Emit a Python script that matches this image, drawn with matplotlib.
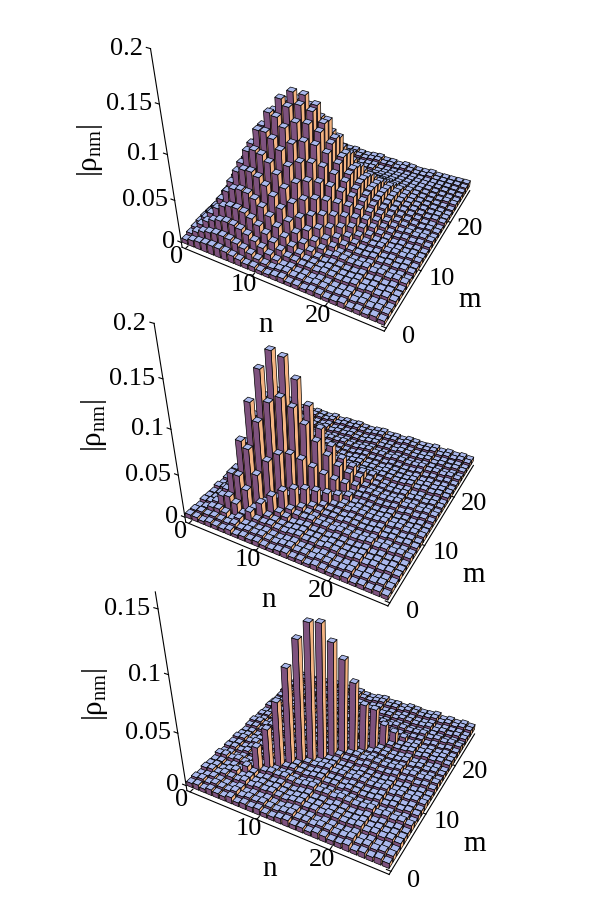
import numpy as np
import matplotlib.pyplot as plt
from mpl_toolkits.mplot3d.art3d import Poly3DCollection

plt.rcParams['font.family'] = ['Liberation Serif', 'DejaVu Serif']
plt.rcParams['mathtext.fontset'] = 'custom'
plt.rcParams['mathtext.rm'] = 'Liberation Serif'

# photon number index (n and m axes)
N = 28
levels = np.arange(N)
nm_ticks = [0, 10, 20]

# panel 1: diagonal |rho_nn| and coherence factor vs |n-m|
diag_1 = [0.005, 0.012, 0.022, 0.035, 0.052, 0.072, 0.092, 0.112, 0.128, 0.14,
          0.145, 0.14, 0.128, 0.11, 0.09, 0.07, 0.053, 0.04, 0.03, 0.022,
          0.016, 0.012, 0.01, 0.009, 0.008, 0.007, 0.007, 0.007]
coh_1 = [1.0, 0.94, 0.86, 0.77, 0.67, 0.57, 0.47, 0.37, 0.28, 0.2, 0.14, 0.09,
         0.05, 0.03, 0.015]

# panel 2
diag_2 = [0.005, 0.006, 0.009, 0.02, 0.044, 0.078, 0.117, 0.148, 0.164, 0.156,
          0.132, 0.103, 0.076, 0.054, 0.037, 0.025, 0.016, 0.01, 0.007, 0.005,
          0.005, 0.005, 0.005, 0.005, 0.005, 0.005, 0.005, 0.005]
coh_2 = [1.0, 0.75, 0.42, 0.14, 0.24, 0.1, 0.08, 0.04]

# panel 3
diag_3 = [0.004, 0.005, 0.006, 0.007, 0.008, 0.01, 0.026, 0.041, 0.064, 0.092,
          0.114, 0.126, 0.124, 0.107, 0.091, 0.069, 0.047, 0.041, 0.024, 0.015,
          0.008, 0.006, 0.005, 0.005, 0.005, 0.005, 0.005, 0.005]
coh_3 = [1.0, 0.03, 0.02]

# background level of the reconstructed matrices
floor_lvl = [0.004, 0.006, 0.003, 0.007, 0.005, 0.004, 0.008, 0.003, 0.006, 0.005,
             0.007, 0.004, 0.003, 0.006, 0.008, 0.004, 0.005, 0.003, 0.007, 0.006,
             0.004, 0.005, 0.008, 0.003, 0.006, 0.004, 0.007, 0.005]

zrange = [(-0.006, 0.2), (-0.006, 0.2), (-0.005, 0.162)]
zticks = [[0, 0.05, 0.1, 0.15, 0.2], [0, 0.05, 0.1, 0.15, 0.2], [0, 0.05, 0.1, 0.15]]

TOP = '#aab8ec'
FRONT = '#7e527e'
SIDE = '#f4b482'


def build_matrix(diag, coh):
    p = np.array(diag)
    c = np.zeros(N)
    c[:len(coh)] = coh
    nn, mm = np.meshgrid(levels, levels, indexing='ij')
    f = np.array(floor_lvl)
    rho = np.sqrt(np.outer(p, p)) * c[np.abs(nn - mm)]
    return np.maximum(rho, 0.5 * (f[nn] + f[mm]))


def draw_bars(ax, rho):
    w = 0.84
    layers = {}
    for n in levels:
        for m in levels:
            h = rho[n, m]
            x0, x1 = n - w / 2, n + w / 2
            y0, y1 = m - w / 2, m + w / 2
            top = [(x0, y0, h), (x1, y0, h), (x1, y1, h), (x0, y1, h)]
            front = [(x0, y0, 0), (x1, y0, 0), (x1, y0, h), (x0, y0, h)]
            side = [(x1, y0, 0), (x1, y1, 0), (x1, y1, h), (x1, y0, h)]
            polys, cols = layers.setdefault(n - m, ([], []))
            polys += [front, side, top]
            cols += [FRONT, SIDE, TOP]
    # back diagonals first, so nearer bars cover farther ones
    for key in sorted(layers):
        polys, cols = layers[key]
        pc = Poly3DCollection(polys, facecolors=cols, edgecolors='k',
                              linewidths=0.5)
        pc.set_zorder(100 + key)
        pc.set_clip_on(False)
        ax.add_collection3d(pc)


def style_axes(ax, zt, zr):
    ax.set_xlim(-0.5, N - 0.5)
    ax.set_ylim(-0.5, N - 0.5)
    ax.set_zlim(*zr)
    ax.set_box_aspect((1, 1, 1), zoom=1.08)
    ax.view_init(elev=34, azim=-61.6)
    ax.set_proj_type('persp', focal_length=0.37)
    ax.grid(False)
    for axis in (ax.xaxis, ax.yaxis, ax.zaxis):
        axis.set_pane_color((1, 1, 1, 0))
        axis.line.set_color('k')
        axis.line.set_linewidth(0.8)
        axis._axinfo['tick']['inward_factor'] = 0.0
        axis._axinfo['tick']['outward_factor'] = 0.25
    # z axis on the left edge; labels pushed out along one direction only
    ax.zaxis.set_ticks_position('lower')
    ax.zaxis.set_label_position('lower')
    ax.zaxis._get_tickdir = lambda *a, **k: 0
    ax.xaxis._axmask = lambda: [False, True, False]
    ax.yaxis._axmask = lambda: [True, False, False]
    ax.zaxis._axmask = lambda: [True, False, False]
    ax.set_xticks(nm_ticks)
    ax.set_yticks(nm_ticks)
    ax.set_zticks(zt)
    ax.set_xticklabels([str(t) for t in nm_ticks], ha='center', va='center')
    ax.set_yticklabels([str(t) for t in nm_ticks], ha='center', va='center')
    ax.set_zticklabels([f'{t:g}' for t in zt], ha='right', va='center_baseline')
    ax.tick_params(labelsize=19)
    ax.xaxis.set_tick_params(pad=0)
    ax.yaxis.set_tick_params(pad=5)
    ax.zaxis.set_tick_params(pad=-3)
    ax.text2D(0.325, -0.031, 'n', transform=ax.transAxes, fontsize=21,
              ha='center', va='center')
    ax.text2D(0.895, 0.039, 'm', transform=ax.transAxes, fontsize=21,
              ha='center', va='center')
    ax.text2D(-0.162, 0.455, '|ρ$_{\\mathrm{nm}}$|', transform=ax.transAxes,
              fontsize=21, rotation=90, ha='center', va='center')


fig = plt.figure(figsize=(6, 8.98), dpi=100)
rects = [[0.172, 0.65, 0.75, 0.4], [0.178, 0.344, 0.75, 0.4], [0.180, 0.045, 0.75, 0.4]]
data = [(diag_1, coh_1), (diag_2, coh_2), (diag_3, coh_3)]

for i in range(3):
    ax = fig.add_axes(rects[i], projection='3d', computed_zorder=False)
    ax.patch.set_alpha(0)
    rho = build_matrix(*data[i])
    draw_bars(ax, rho)
    style_axes(ax, zticks[i], zrange[i])

fig.savefig('out.png', dpi=100)
